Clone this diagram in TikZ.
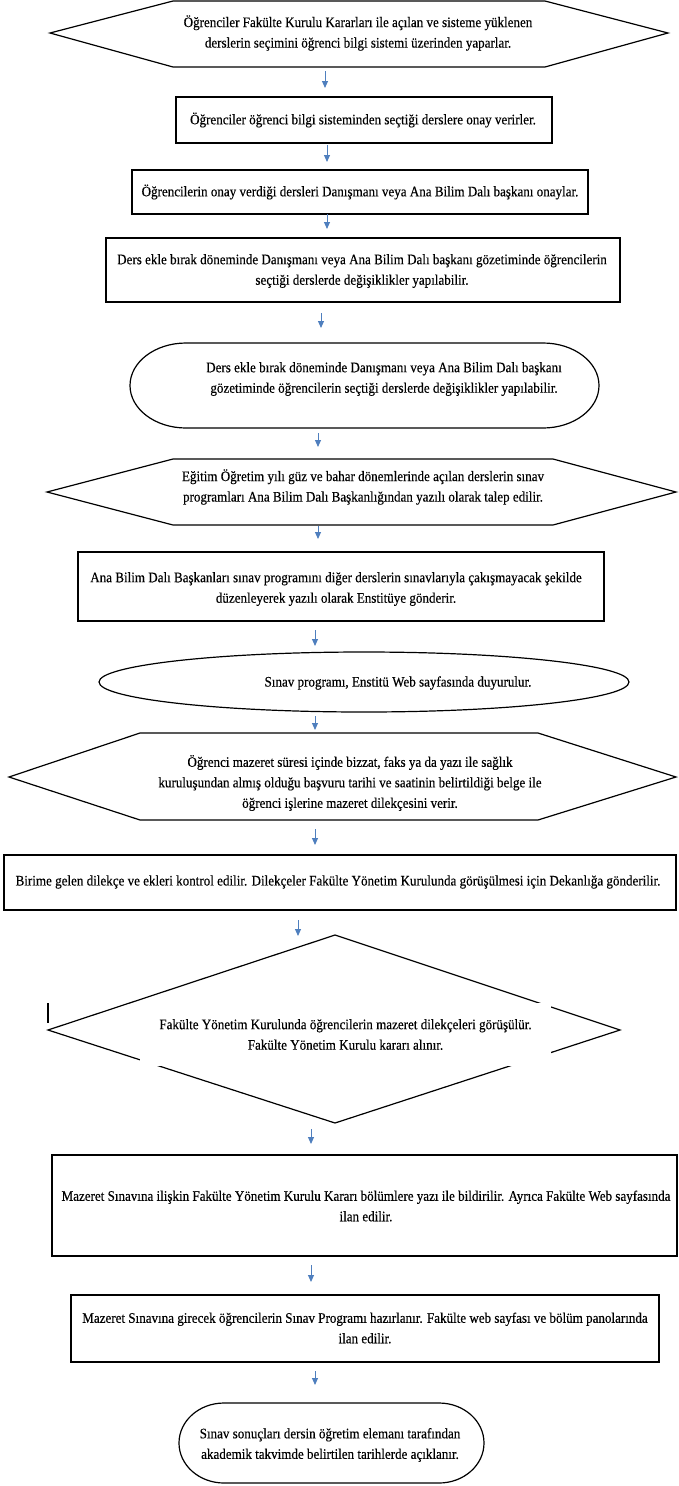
\documentclass[tikz,border=0pt]{standalone}
\usepackage{fontspec}
\setmainfont{Liberation Serif}
\newfontfamily\tnr[FakeStretch=0.9,FakeBold=0.3]{Liberation Serif}
\usetikzlibrary{arrows.meta}
\definecolor{arrblue}{HTML}{4F7FBE}
\begin{document}
\begin{tikzpicture}[x=1pt,y=-1pt,
  shp/.style={draw=black,line width=1.2pt,line join=miter},
  txt/.style={font=\tnr\fontsize{14.5}{20.5}\selectfont,align=center,inner sep=0pt},
  arr/.style={draw=arrblue,line width=1pt,-{Triangle[length=7pt,width=6pt]}}]
\useasboundingbox (0,0) rectangle (678,1486);
\fill[white] (0,0) rectangle (678,1486);

% 1 hexagon
\draw[shp] (50,33) -- (173,1) -- (545,1) -- (668,33) -- (545,67) -- (173,67) -- cycle;
\node[txt] (t1) at (358,33) {Öğrenciler Fakülte Kurulu Kararları ile açılan ve sisteme yüklenen\\derslerin seçimini öğrenci bilgi sistemi üzerinden yaparlar.};
\coordinate (a1s) at (325,71); \coordinate (a1e) at (325,88);
\draw[arr] (a1s) -- (a1e);

% 2 box
\draw[shp] (176,97) rectangle (552,143);
\node[txt] (t2) at (363,120) {Öğrenciler öğrenci bilgi sisteminden seçtiği derslere onay verirler.};
\coordinate (a2s) at (327,145); \coordinate (a2e) at (327,162);
\draw[arr] (a2s) -- (a2e);

% 3 box
\draw[shp] (132,170) rectangle (588,214);
\node[txt] (t3) at (360,192) {Öğrencilerin onay verdiği dersleri Danışmanı veya Ana Bilim Dalı başkanı onaylar.};
\coordinate (a3s) at (327,214); \coordinate (a3e) at (327,229);
\draw[arr] (a3s) -- (a3e);

% 4 box
\draw[shp] (106,238) rectangle (620,302);
\node[txt] (t4) at (362,271) {Ders ekle bırak döneminde Danışmanı veya Ana Bilim Dalı başkanı gözetiminde öğrencilerin\\seçtiği derslerde değişiklikler yapılabilir.};
\coordinate (a4s) at (321,313); \coordinate (a4e) at (321,328);
\draw[arr] (a4s) -- (a4e);

% 5 stadium
\draw[shp] (186,343) -- (543,343) arc[start angle=90,end angle=-90,x radius=56pt,y radius=42.5pt]
  -- (186,428) arc[start angle=270,end angle=90,x radius=56pt,y radius=42.5pt] -- cycle;
\node[txt] (t5) at (384,379) {Ders ekle bırak döneminde Danışmanı veya Ana Bilim Dalı başkanı\\gözetiminde öğrencilerin seçtiği derslerde değişiklikler yapılabilir.};
\coordinate (a5s) at (318,433); \coordinate (a5e) at (318,447);
\draw[arr] (a5s) -- (a5e);

% 6 hexagon
\draw[shp] (47,492) -- (173,459) -- (553,459) -- (676,492) -- (553,525) -- (173,525) -- cycle;
\node[txt] (t6) at (363,487) {Eğitim Öğretim yılı güz ve bahar dönemlerinde açılan derslerin sınav\\programları Ana Bilim Dalı Başkanlığından yazılı olarak talep edilir.};
\coordinate (a6s) at (318,526); \coordinate (a6e) at (318,539);
\draw[arr] (a6s) -- (a6e);

% 7 box
\draw[shp] (78,552) rectangle (604,621);
\node[txt] (t7) at (336,589) {Ana Bilim Dalı Başkanları sınav programını diğer derslerin sınavlarıyla çakışmayacak şekilde\\düzenleyerek yazılı olarak Enstitüye gönderir.};
\coordinate (a7s) at (315,630); \coordinate (a7e) at (315,646);
\draw[arr] (a7s) -- (a7e);

% 8 ellipse
\draw[shp] (364,682) ellipse[x radius=265pt,y radius=30pt];
\node[txt] (t8) at (398,683) {Sınav programı, Enstitü Web sayfasında duyurulur.};
\coordinate (a8s) at (315,716); \coordinate (a8e) at (315,730);
\draw[arr] (a8s) -- (a8e);

% 9 hexagon
\draw[shp] (9,777) -- (140,733) -- (538,733) -- (676,777) -- (538,820) -- (140,820) -- cycle;
\node[txt] (t9) at (350,783) {Öğrenci mazeret süresi içinde bizzat, faks ya da yazı ile sağlık\\kuruluşundan almış olduğu başvuru tarihi ve saatinin belirtildiği belge ile\\öğrenci işlerine mazeret dilekçesini verir.};
\coordinate (a9s) at (315,829); \coordinate (a9e) at (315,845);
\draw[arr] (a9s) -- (a9e);

% 10 box
\draw[shp] (4,855) rectangle (676,910);
\node[txt] (t10) at (338,882) {Birime gelen dilekçe ve ekleri kontrol edilir. Dilekçeler Fakülte Yönetim Kurulunda görüşülmesi için Dekanlığa gönderilir.};
\coordinate (a10s) at (298,920); \coordinate (a10e) at (298,936);
\draw[arr] (a10s) -- (a10e);

% 11 diamond
\draw[shp] (335,935) -- (620,1030) -- (335,1123) -- (48,1030) -- cycle;
\node[txt,fill=white,minimum width=411pt,minimum height=63pt] (t11) at (345.5,1034.5) {Fakülte Yönetim Kurulunda öğrencilerin mazeret dilekçeleri görüşülür.\\Fakülte Yönetim Kurulu kararı alınır.};
\draw[black,line width=1.3pt] (48,1003) -- (48,1023);
\coordinate (a11s) at (311,1129); \coordinate (a11e) at (311,1144);
\draw[arr] (a11s) -- (a11e);

% 12 box
\draw[shp] (52,1155) rectangle (677,1256);
\node[txt] (t12) at (366,1206) {Mazeret Sınavına ilişkin Fakülte Yönetim Kurulu Kararı bölümlere yazı ile bildirilir. Ayrıca Fakülte Web sayfasında\\ilan edilir.};
\coordinate (a12s) at (311,1265); \coordinate (a12e) at (311,1282);
\draw[arr] (a12s) -- (a12e);

% 13 box
\draw[shp] (71,1295) rectangle (659,1362);
\node[txt] (t13) at (365,1328) {Mazeret Sınavına girecek öğrencilerin Sınav Programı hazırlanır. Fakülte web sayfası ve bölüm panolarında\\ilan edilir.};
\coordinate (a13s) at (315,1371); \coordinate (a13e) at (315,1385);
\draw[arr] (a13s) -- (a13e);

% 14 stadium
\draw[shp] (224,1403) -- (439,1403) arc[start angle=90,end angle=-90,x radius=45pt,y radius=40pt]
  -- (224,1483) arc[start angle=270,end angle=90,x radius=45pt,y radius=40pt] -- cycle;
\node[txt] (t14) at (330,1445) {Sınav sonuçları dersin öğretim elemanı tarafından\\akademik takvimde belirtilen tarihlerde açıklanır.};
\end{tikzpicture}
\end{document}
